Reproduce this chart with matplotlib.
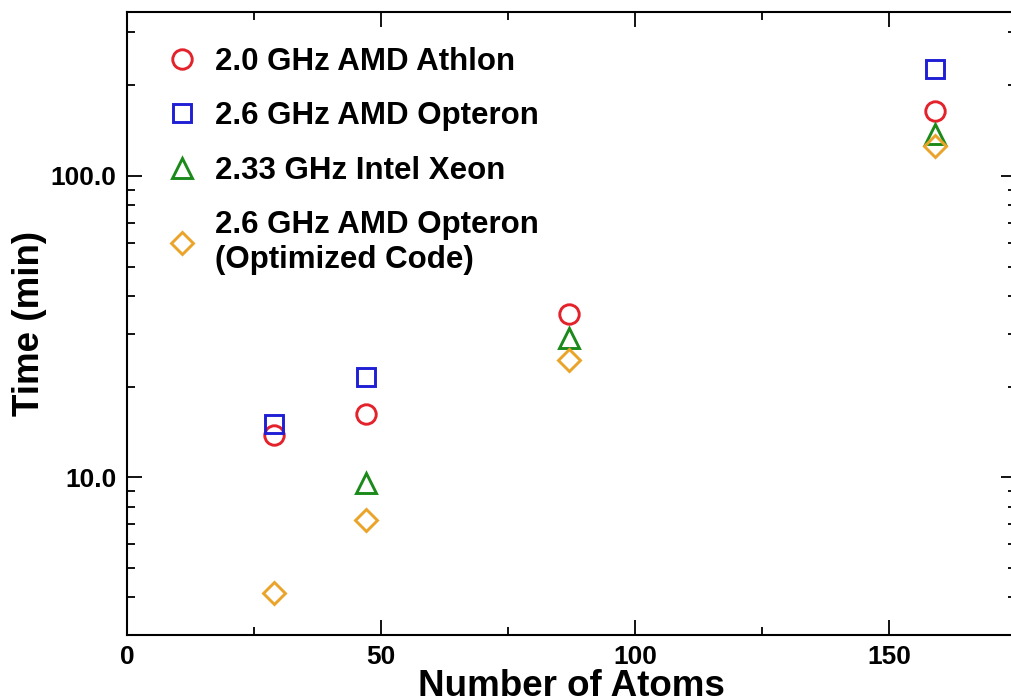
import matplotlib
matplotlib.use("Agg")
import matplotlib.pyplot as plt
from matplotlib.ticker import FixedLocator, FixedFormatter, LogLocator, NullFormatter

# benchmark data: number of atoms vs wall time (min)
athlon_x = [29, 47, 87, 159]
athlon_t = [13.8, 16.2, 34.9, 164]
opteron_x = [29, 47, 159]
opteron_t = [15.0, 21.6, 226]
xeon_x = [47, 87, 159]
xeon_t = [9.55, 29.1, 138]
optimized_x = [29, 47, 87, 159]
optimized_t = [4.13, 7.2, 24.6, 126]

labels = ["2.0 GHz AMD Athlon", "2.6 GHz AMD Opteron", "2.33 GHz Intel Xeon",
          "2.6 GHz AMD Opteron\n(Optimized Code)"]
x_ticks = [0, 50, 100, 150]
y_ticks = [10.0, 100.0]
y_ticklabels = ["10.0", "100.0"]

plt.rcParams["font.family"] = ["Liberation Sans", "DejaVu Sans"]
plt.rcParams["font.weight"] = "bold"

fig = plt.figure(figsize=(10.11, 7.0), dpi=100)
# right spine sits just past the image edge, as in the original
ax = fig.add_axes([127 / 1011, 65 / 700, 889 / 1011, 623 / 700])

styles = [
    (athlon_x, athlon_t, "o", "#e3222b", 14),
    (opteron_x, opteron_t, "s", "#1f1fd6", 12.5),
    (xeon_x, xeon_t, "^", "#1b8a1b", 14.5),
    (optimized_x, optimized_t, "D", "#eba42a", 11.3),
]
for (xs, ts, m, c, ms), lab in zip(styles, labels):
    ax.plot(xs, ts, linestyle="none", marker=m, markersize=ms, markerfacecolor="none",
            markeredgecolor=c, markeredgewidth=2.1, label=lab)

ax.set_yscale("log")
ax.set_xlim(0, 175)
ax.set_ylim(3.0, 350)

ax.xaxis.set_major_locator(FixedLocator(x_ticks))
ax.xaxis.set_minor_locator(FixedLocator([25, 75, 125]))
ax.yaxis.set_major_locator(FixedLocator(y_ticks))
ax.yaxis.set_major_formatter(FixedFormatter(y_ticklabels))
ax.yaxis.set_minor_locator(LogLocator(base=10, subs=range(2, 10)))
ax.yaxis.set_minor_formatter(NullFormatter())

ax.tick_params(which="both", direction="in", top=True, right=True, width=1.3,
               labelsize=19, pad=7.5)
ax.tick_params(which="major", length=11)
ax.tick_params(which="minor", length=5.5)
for lab in ax.get_xticklabels() + ax.get_yticklabels():
    lab.set_family(["Liberation Sans Narrow", "Liberation Sans", "DejaVu Sans"])
    lab.set_fontweight("bold")
for sp in ax.spines.values():
    sp.set_linewidth(1.5)

ax.set_xlabel("Number of Atoms", fontsize=26.5, fontweight="bold", labelpad=0)
ax.set_ylabel("Time (min)", fontsize=26.5, fontweight="bold", labelpad=3)

ax.legend(loc="upper left", bbox_to_anchor=(0.02, 0.979), frameon=False,
          prop={"size": 22.5, "weight": "bold"}, handlelength=1.0, handletextpad=0.56,
          labelspacing=0.78, borderaxespad=0.3)

fig.savefig("out.png", dpi=100)
